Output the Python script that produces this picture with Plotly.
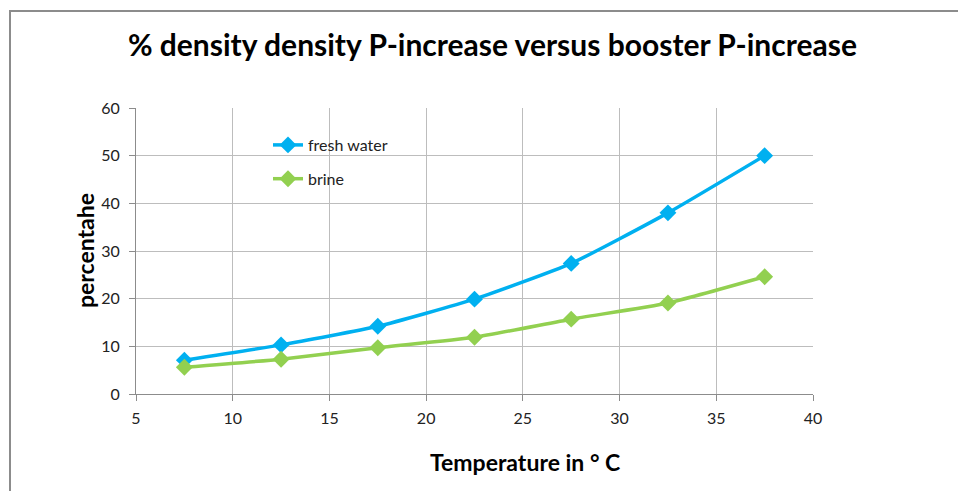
import plotly.graph_objects as go

temperature = [7.5, 12.5, 17.5, 22.5, 27.5, 32.5, 37.5]
fresh_water = [7.1, 10.3, 14.2, 19.9, 27.4, 38.0, 50.0]
brine = [5.6, 7.3, 9.7, 11.9, 15.7, 19.1, 24.6]

W, H = 958, 491
L, R, T, B = 136, 145, 108, 97
pw, ph = W - L - R, H - T - B

def px(p):
    return (p - L) / pw

def py(p):
    return (H - B - p) / ph

FONT = "Lato, 'Open Sans', sans-serif"

fig = go.Figure()
fig.add_trace(go.Scatter(
    x=temperature, y=fresh_water, name="fresh water", mode="lines+markers",
    line=dict(color="#00B0F0", width=3.5, shape="spline", smoothing=0.5),
    marker=dict(symbol="diamond", size=13, color="#00B0F0"),
    legendgroup="a"))
fig.add_trace(go.Scatter(
    x=temperature, y=brine, name="brine", mode="lines+markers",
    line=dict(color="#92D050", width=3.5, shape="spline", smoothing=0.5),
    marker=dict(symbol="diamond", size=13, color="#92D050"),
    legendgroup="b"))

fig.update_layout(
    width=W, height=H,
    margin=dict(l=L, r=R, t=T, b=B),
    paper_bgcolor="white", plot_bgcolor="white",
    font=dict(family=FONT, size=16, color="#222"),
    title=dict(text="<b>% density density P-increase versus booster P-increase</b>",
               x=px(484), xanchor="center", y=1 - 45 / H, yanchor="middle",
               font=dict(size=30, color="black", family=FONT)),
    xaxis=dict(range=[5, 40], dtick=5, tick0=5, showgrid=True, gridcolor="#BDBDBD",
               gridwidth=1, showline=True, linecolor="#8C8C8C", linewidth=1,
               ticks="outside", ticklen=6, tickcolor="#8C8C8C", zeroline=False,
               ticklabelstandoff=4,
               tickfont=dict(size=16, color="#222")),
    yaxis=dict(range=[0, 60], dtick=10, showgrid=True, gridcolor="#BDBDBD",
               gridwidth=1, showline=True, linecolor="#8C8C8C", linewidth=1,
               ticks="outside", ticklen=6, tickcolor="#8C8C8C", zeroline=False,
               ticklabelstandoff=6,
               tickfont=dict(size=16, color="#222")),
    legend=dict(x=px(268), y=py(128), xanchor="left", yanchor="top",
                bgcolor="rgba(0,0,0,0)", font=dict(size=16, color="#222"),
                traceorder="grouped", tracegroupgap=10, itemwidth=30),
    showlegend=True,
)

fig.add_annotation(text="<b>Temperature in ° C</b>", xref="paper", yref="paper",
                   x=px(525), y=py(462), xanchor="center", yanchor="middle",
                   showarrow=False, font=dict(size=23, color="black", family=FONT))
fig.add_annotation(text="<b>percentahe</b>", xref="paper", yref="paper",
                   x=px(85), y=py(251), xanchor="center", yanchor="middle",
                   textangle=-90, showarrow=False,
                   font=dict(size=23, color="black", family=FONT))

fig.add_shape(type="rect", xref="paper", yref="paper",
              x0=px(10), x1=px(965), y0=py(500), y1=py(11),
              line=dict(color="#8C8C8C", width=2), layer="above")

fig.write_html("out.html")
